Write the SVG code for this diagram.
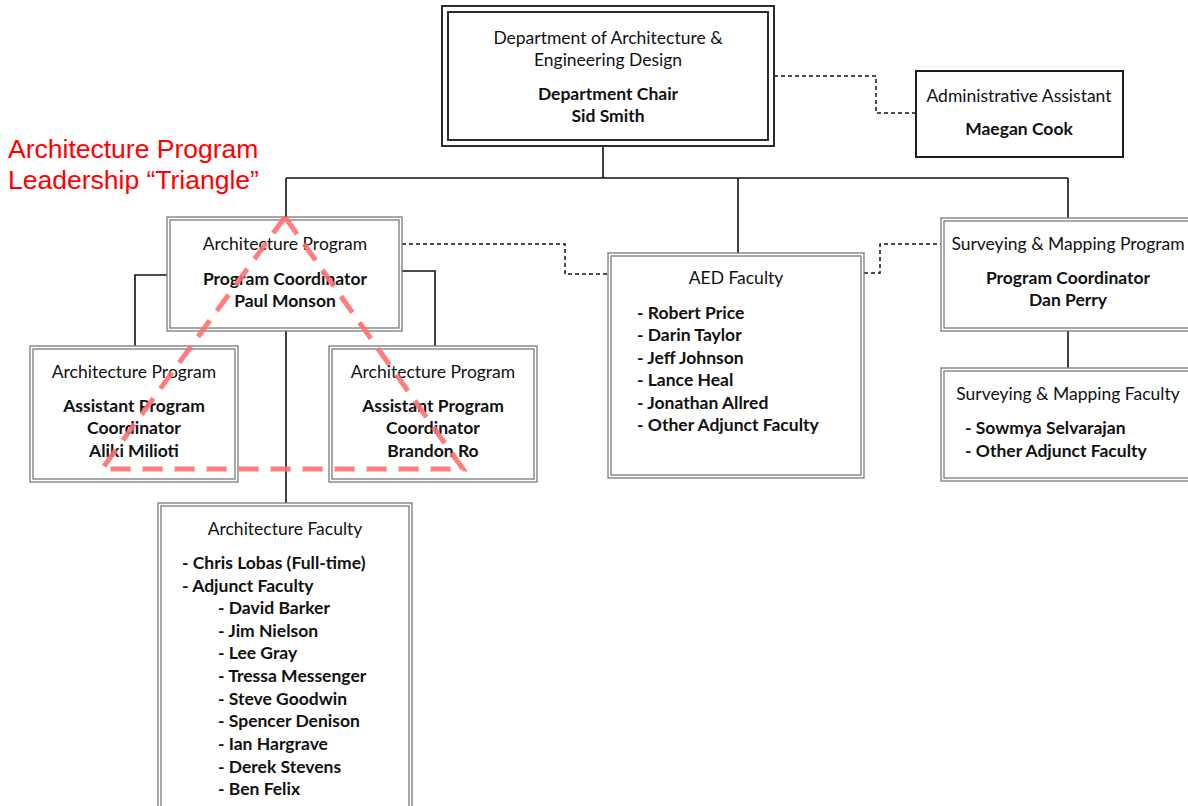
<svg xmlns="http://www.w3.org/2000/svg" width="1188" height="806" viewBox="0 0 1188 806">
  <style>
    .bg { fill: #ffffff; }
    .dbl { fill: none; stroke: #7a7a7a; stroke-width: 1.3; }
    .heavy { fill: none; stroke: #2a2a2a; stroke-width: 2; }
    .single { fill: #ffffff; stroke: #1e1e1e; stroke-width: 2; }
    .link { fill: none; stroke: #111; stroke-width: 1.6; }
    .dash { fill: none; stroke: #111; stroke-width: 1.5; stroke-dasharray: 4 3; }
    text { font-family: Lato, "Open Sans", "DejaVu Sans", sans-serif; font-size: 17.5px; fill: #111; }
    .c { text-anchor: middle; }
    .b { font-weight: bold; }
    .note { font-family: "Liberation Sans", Arial, sans-serif; font-size: 26.5px; fill: #ff0000; }
    .tri { fill: none; stroke: #ff6f6f; stroke-opacity: 0.9; stroke-width: 5; stroke-dasharray: 20 12; }
  </style>

  <rect class="bg" x="0" y="0" width="1188" height="806"/>

  <!-- connectors -->
  <g id="connectors">
    <path class="link" d="M603,146 V178 M286,178 H1068 M286,178 V217 M738,178 V253 M1068,178 V218"/>
    <path class="link" d="M167,275 H135 V346 M402,271 H435 V346 M286,331 V503 M1068,331 V368"/>
    <path class="dash" d="M774,76 H876 V113 H916"/>
    <path class="dash" d="M402,244 H565 V274 H608"/>
    <path class="dash" d="M864,273 H880 V244 H941"/>
  </g>

  <!-- department head -->
  <g id="dept-chair">
    <rect class="bg" x="442" y="6" width="332" height="140"/>
    <rect class="heavy" x="442" y="6" width="332" height="140"/>
    <rect class="heavy" x="448" y="12" width="320" height="128"/>
    <text class="c" x="608" y="44">Department of Architecture &amp;</text>
    <text class="c" x="608" y="66">Engineering Design</text>
    <text class="c b" x="608" y="100">Department Chair</text>
    <text class="c b" x="608" y="122">Sid Smith</text>
  </g>

  <g id="admin-assistant">
    <rect class="single" x="916" y="71" width="207" height="86"/>
    <text class="c" x="1019" y="102">Administrative Assistant</text>
    <text class="c b" x="1019" y="135">Maegan Cook</text>
  </g>

  <g id="arch-program">
    <rect class="bg" x="167" y="217" width="235" height="114"/>
    <rect class="dbl" x="167" y="217" width="235" height="114"/>
    <rect class="dbl" x="170" y="220" width="229" height="108"/>
    <text class="c" x="285" y="250">Architecture Program</text>
    <text class="c b" x="285" y="285">Program Coordinator</text>
    <text class="c b" x="285" y="307">Paul Monson</text>
  </g>

  <g id="arch-assistant-left">
    <rect class="bg" x="30" y="346" width="208" height="136"/>
    <rect class="dbl" x="30" y="346" width="208" height="136"/>
    <rect class="dbl" x="33" y="349" width="202" height="130"/>
    <text class="c" x="134" y="378">Architecture Program</text>
    <text class="c b" x="134" y="412">Assistant Program</text>
    <text class="c b" x="134" y="434">Coordinator</text>
    <text class="c b" x="134" y="457">Aliki Milioti</text>
  </g>

  <g id="arch-assistant-right">
    <rect class="bg" x="329" y="346" width="208" height="136"/>
    <rect class="dbl" x="329" y="346" width="208" height="136"/>
    <rect class="dbl" x="332" y="349" width="202" height="130"/>
    <text class="c" x="433" y="378">Architecture Program</text>
    <text class="c b" x="433" y="412">Assistant Program</text>
    <text class="c b" x="433" y="434">Coordinator</text>
    <text class="c b" x="433" y="457">Brandon Ro</text>
  </g>

  <g id="aed-faculty">
    <rect class="bg" x="608" y="253" width="256" height="225"/>
    <rect class="dbl" x="608" y="253" width="256" height="225"/>
    <rect class="dbl" x="611" y="256" width="250" height="219"/>
    <text class="c" x="736" y="284">AED Faculty</text>
    <text class="b" x="637" y="319">- Robert Price</text>
    <text class="b" x="637" y="341">- Darin Taylor</text>
    <text class="b" x="637" y="364">- Jeff Johnson</text>
    <text class="b" x="637" y="386">- Lance Heal</text>
    <text class="b" x="637" y="409">- Jonathan Allred</text>
    <text class="b" x="637" y="431">- Other Adjunct Faculty</text>
  </g>

  <g id="surveying-program">
    <rect class="bg" x="941" y="218" width="256" height="113"/>
    <rect class="dbl" x="941" y="218" width="256" height="113"/>
    <rect class="dbl" x="944" y="221" width="250" height="107"/>
    <text class="c" x="1068" y="250">Surveying &amp; Mapping Program</text>
    <text class="c b" x="1068" y="284">Program Coordinator</text>
    <text class="c b" x="1068" y="306">Dan Perry</text>
  </g>

  <g id="surveying-faculty">
    <rect class="bg" x="941" y="368" width="256" height="113"/>
    <rect class="dbl" x="941" y="368" width="256" height="113"/>
    <rect class="dbl" x="944" y="371" width="250" height="107"/>
    <text class="c" x="1068" y="400">Surveying &amp; Mapping Faculty</text>
    <text class="b" x="965" y="434">- Sowmya Selvarajan</text>
    <text class="b" x="965" y="457">- Other Adjunct Faculty</text>
  </g>

  <g id="arch-faculty">
    <rect class="bg" x="158" y="503" width="254" height="310"/>
    <rect class="dbl" x="158" y="503" width="254" height="310"/>
    <rect class="dbl" x="161" y="506" width="248" height="310"/>
    <text class="c" x="285" y="535">Architecture Faculty</text>
    <text class="b" x="182" y="569">- Chris Lobas (Full-time)</text>
    <text class="b" x="182" y="592">- Adjunct Faculty</text>
    <text class="b" x="218" y="614">- David Barker</text>
    <text class="b" x="218" y="637">- Jim Nielson</text>
    <text class="b" x="218" y="659">- Lee Gray</text>
    <text class="b" x="218" y="682">- Tressa Messenger</text>
    <text class="b" x="218" y="705">- Steve Goodwin</text>
    <text class="b" x="218" y="727">- Spencer Denison</text>
    <text class="b" x="218" y="750">- Ian Hargrave</text>
    <text class="b" x="218" y="773">- Derek Stevens</text>
    <text class="b" x="218" y="795">- Ben Felix</text>
  </g>

  <!-- leadership annotation -->
  <g id="leadership-triangle">
    <text class="note" x="8" y="158">Architecture Program</text>
    <text class="note" x="8" y="189">Leadership “Triangle”</text>
    <path class="tri" d="M285,217 L102,469 H463 Z"/>
  </g>
</svg>
